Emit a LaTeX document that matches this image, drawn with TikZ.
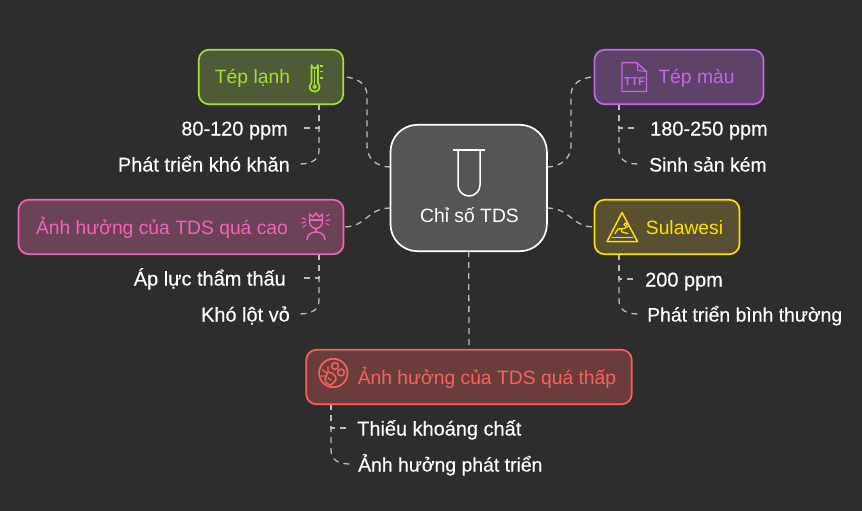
\documentclass[tikz,border=0pt]{standalone}
\usepackage{fontspec}
\setmainfont{Liberation Sans}
\newfontfamily\leaffont[FakeBold=0.25]{Liberation Sans}
\usetikzlibrary{calc}
\definecolor{bgc}{HTML}{2D2D2D}
\definecolor{linkc}{HTML}{BDBDBD}
\definecolor{cenf}{HTML}{555555}
\definecolor{gr}{HTML}{A6DF35}\definecolor{grf}{HTML}{4F5A36}
\definecolor{pu}{HTML}{C466EA}\definecolor{puf}{HTML}{5F4268}
\definecolor{ye}{HTML}{FFE100}\definecolor{yef}{HTML}{585030}
\definecolor{pk}{HTML}{F264B8}\definecolor{pkf}{HTML}{6C4258}
\definecolor{re}{HTML}{F8625E}\definecolor{ref}{HTML}{6B3C3C}
\tikzset{
  link/.style={draw=linkc,line width=1.3pt,dash pattern=on 6pt off 5pt},
  boxn/.style={draw=#1,fill=#1f,line width=1.7pt,rounded corners=10pt,inner sep=0pt},
  lab/.style={font=\fontsize{19.3}{21}\selectfont,text=#1,inner sep=0pt,anchor=base},
  leafl/.style={font=\leaffont\fontsize{19.4}{21}\selectfont,text=white,text height=18pt,text depth=3pt,inner ysep=0pt,inner xsep=#1,anchor=east},
  leafr/.style={font=\leaffont\fontsize{19.4}{21}\selectfont,text=white,text height=18pt,text depth=3pt,inner ysep=0pt,inner xsep=#1,anchor=west},
  wide/.style={font=\leaffont\fontsize{19.95}{21}\selectfont},
  ico/.style={draw=#1,line width=1.4pt,line cap=round,line join=round,fill=none},
}
\begin{document}
\begin{tikzpicture}[x=1pt,y=-1pt]
\useasboundingbox (0,0) rectangle (862,511);
\fill[bgc] (0,0) rectangle (862,511);

% boxes (as anchors first)
\node[minimum width=156pt,minimum height=126pt,inner sep=0pt] (cen) at (468.7,188) {};
\node[minimum width=144pt,minimum height=54pt,inner sep=0pt] (lanh) at (271,77) {};
\node[minimum width=168.5pt,minimum height=54pt,inner sep=0pt] (mau) at (679,77) {};
\node[minimum width=144.5pt,minimum height=54pt,inner sep=0pt] (sul) at (667,227) {};
\node[minimum width=324.5pt,minimum height=54pt,inner sep=0pt] (cao) at (181,227) {};
\node[minimum width=325pt,minimum height=54pt,inner sep=0pt] (thap) at (469,377) {};

% leaves
\node[leafl=12pt,wide] (a1) at (300,128) {80-120 ppm};
\node[leafl=9pt,wide] (a2) at (299,164) {Phát triển khó khăn};
\node[leafr=12pt,wide] (b1) at (638,128) {180-250 ppm};
\node[leafr=11pt] (b2) at (638,164) {Sinh sản kém};
\node[leafr=7pt,wide] (c1) at (638,279) {200 ppm};
\node[leafr=9pt] (c2) at (638,314) {Phát triển bình thường};
\node[leafl=14pt,wide] (d1) at (300,278) {Áp lực thẩm thấu};
\node[leafl=9pt,wide] (d2) at (299,314) {Khó lột vỏ};
\node[leafr=7pt,wide] (e1) at (350,428) {Thiếu khoáng chất};
\node[leafr=8pt] (e2) at (350,464) {Ảnh hưởng phát triển};

% centre connectors
\draw[link] ($(cen.west)+(0,-21)$) .. controls (376,167) and (367,158) .. (367,146) -- (367,95) .. controls (367,85) and (358,77) .. (lanh.east);
\draw[link] ($(cen.east)+(0,-21)$) .. controls (561,167) and (571,158) .. (571,146) -- (571,95) .. controls (571,85) and (580,77) .. (mau.west);
\draw[link] ($(cen.east)+(0,20)$) .. controls (571,208) and (571,227) .. (sul.west);
\draw[link] ($(cen.west)+(0,20)$) .. controls (367,208) and (367,227) .. (cao.east);
\draw[link] (cen.south) -- (thap.north);

% leaf connectors
\draw[link] ($(lanh.south)+(48,0)$) -- (319,128) -- (a1.east);
\draw[link] ($(lanh.south)+(48,0)$) -- (319,150) .. controls (319,159) and (313,164) .. (a2.east);
\draw[link] ($(mau.south)+(-60,0)$) -- (619,128) -- (b1.west);
\draw[link] ($(mau.south)+(-60,0)$) -- (619,150) .. controls (619,159) and (625,164) .. (b2.west);
\draw[link] ($(sul.south)+(-48,0)$) -- (619,279) -- (c1.west);
\draw[link] ($(sul.south)+(-48,0)$) -- (619,300) .. controls (619,309) and (625,314) .. (c2.west);
\draw[link] ($(cao.south)+(138,0)$) -- (319,278) -- (d1.east);
\draw[link] ($(cao.south)+(138,0)$) -- (319,300) .. controls (319,309) and (313,314) .. (d2.east);
\draw[link] ($(thap.south)+(-138,0)$) -- (331,428) -- (e1.west);
\draw[link] ($(thap.south)+(-138,0)$) -- (331,450) .. controls (331,459) and (337,464) .. (e2.west);

% box bodies
\draw[draw=white,fill=cenf,line width=1.7pt,rounded corners=27pt] (cen.south west) rectangle (cen.north east);
\draw[boxn=gr] (lanh.south west) rectangle (lanh.north east);
\draw[boxn=pu] (mau.south west) rectangle (mau.north east);
\draw[boxn=ye] (sul.south west) rectangle (sul.north east);
\draw[boxn=pk] (cao.south west) rectangle (cao.north east);
\draw[boxn=re] (thap.south west) rectangle (thap.north east);

% labels
\node[lab=white] (cent) at (469.5,222) {Chỉ số TDS};
\node[lab=gr] (lt) at (252.5,84) {Tép lạnh};
\node[lab=pu] (mt) at (696.5,84) {Tép màu};
\node[lab=ye] (st) at (684.5,234) {Sulawesi};
\node[lab=pk] (pt) at (162,234) {Ảnh hưởng của TDS quá cao};
\node[lab=re] (rt) at (487,384) {Ảnh hưởng của TDS quá thấp};

% test tube
\draw[ico=white,line cap=butt,line width=1.5pt] (452.7,150) -- (485,150);
\draw[ico=white,line cap=butt,line width=1.5pt] (458,150) -- (458,185) arc[start angle=180,end angle=0,radius=11] -- (480,150);

% thermometer
\draw[ico=gr,line width=1.7pt] (311.5,82.9) -- (311.5,65) arc[start angle=180,end angle=360,radius=3.2,y radius=-3.2] -- (317.9,82.9) arc[start angle=-50,end angle=230,radius=5];
\draw[ico=gr,line width=1.4pt] (314.7,86.7) circle[radius=1.6];
\draw[ico=gr,line width=1.4pt] (314.7,85) -- (314.7,70);
\draw[ico=gr,line width=1.6pt,line cap=butt] (319.5,66) -- (323,66) (319.5,71.7) -- (323,71.7) (319.5,78) -- (323,78);

% TTF file
\draw[ico=pu] (636.7,62.7) -- (622,62.7) -- (622,91.5) -- (646.5,91.5) -- (646.5,71.5) -- cycle;
\draw[ico=pu,line width=1.1pt] (637,63) -- (638,70.5) -- (646.5,71.5);
\node[inner sep=0pt,text=pu,font=\bfseries\fontsize{11.5}{12}\selectfont] (ttf) at (634.6,81.7) {TTF};

% warning sign
\draw[ico=ye,line width=1.5pt] (622,212.5) -- (607,241.5) -- (637.5,241.5) -- cycle;
\draw[ico=ye,line width=1.2pt] (612,237.5) -- (633,237.5);
\draw[ico=ye,line width=1.1pt] (625.5,224.5) circle[radius=1.7];
\draw[ico=ye,line width=1.3pt] (615,233.5) -- (618,229) -- (624,228.5) -- (629,226) (621,229) -- (622,232) -- (628,233.5);

% crown person
\draw[ico=pk] (309.5,214) -- (313,217) -- (316,213) -- (319,217) -- (322.5,214) -- (322.5,221) .. controls (322.5,226) and (319,228.5) .. (316,228.5) .. controls (313,228.5) and (309.5,226) .. (309.5,221) -- cycle;
\draw[ico=pk] (310.5,220) -- (321.5,220);
\draw[ico=pk] (316,228.5) -- (316,232);
\draw[ico=pk] (307,240) .. controls (307,234) and (312,232) .. (316,232) .. controls (320,232) and (325,234) .. (325,240);
\draw[ico=pk,line width=1.1pt] (302,218) -- (305.5,219) (302,223) -- (305.5,222) (303,227) -- (306,225) (329.5,214.5) -- (326.5,216) (330,220) -- (326.5,220.5) (329,225) -- (326,223.5);

% carrot and nuts
\draw[ico=re,line width=1.7pt] (333.3,373) circle[radius=14.2];
\draw[ico=re,line width=1.5pt] (328,372) .. controls (332,372) and (337,376) .. (336,380) -- (331,385) .. controls (328,385) and (325,382) .. (325,379) -- cycle;
\draw[ico=re,line width=1.3pt] (327,373) -- (322.5,370) (326,376) -- (321,376) (328,371) -- (328,366.5) (328,378) -- (331,380);
\draw[ico=re,line width=1.5pt] (335,366) circle[radius=3.4];
\draw[ico=re,line width=1.5pt] (341,372.5) circle[radius=3.4];
\end{tikzpicture}
\end{document}
